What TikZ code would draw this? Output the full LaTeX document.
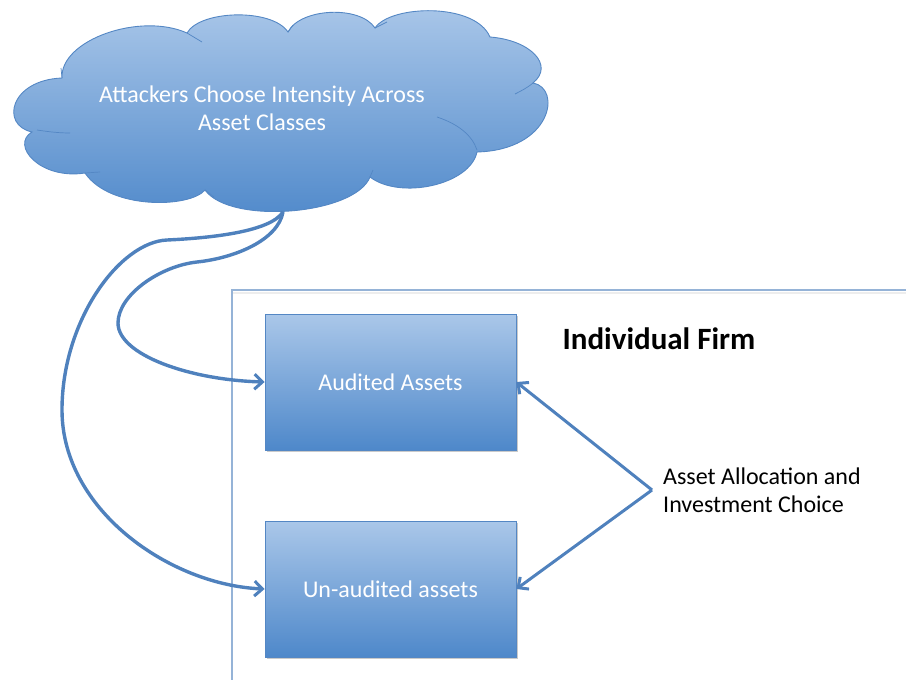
\documentclass[tikz,border=0pt]{standalone}
\usepackage{fontspec}
\setmainfont{Carlito}
\usetikzlibrary{arrows.meta,shadows}

\definecolor{fillTop}{RGB}{170,199,233}
\definecolor{fillBot}{RGB}{78,136,202}
\definecolor{edgeBlue}{RGB}{84,135,196}
\definecolor{arrowBlue}{RGB}{79,129,189}
\definecolor{frameBlue}{RGB}{149,179,215}

\tikzset{
  assetbox/.style={draw=edgeBlue, line width=0.8pt, top color=fillTop, bottom color=fillBot,
    minimum width=251pt, minimum height=136pt, inner sep=0pt, text=white,
    font=\fontsize{24}{28}\selectfont,
    drop shadow={shadow xshift=1.5pt, shadow yshift=-2pt, opacity=0.35, fill=black!60}},
  cloudbody/.style={draw=edgeBlue, line width=0.9pt, top color=fillTop, bottom color=fillBot},
  cloudcrease/.style={draw=edgeBlue, line width=0.7pt},
  flow/.style={draw=arrowBlue, line width=3.4pt,
    -{Straight Barb[length=8pt,width=15pt,line width=3pt]}},
  framebox/.style={draw=frameBlue, line width=2pt},
  plain/.style={text=black, font=\fontsize{24}{28}\selectfont, inner sep=0pt},
}

\begin{document}
\begin{tikzpicture}[x=1pt,y=-1pt]
  \useasboundingbox (0,0) rectangle (906,680);

  % outer frame of the firm
  \draw[black!7, line width=2pt] (233,293) -- (906,293);
  \draw[framebox] (232,680) -- (232,290) -- (906,290);

  % cloud outline built from bumps
  \path[cloudbody]
    (62,78) .. controls (60,40) and (140,12) .. (187,33)
    .. controls (200,10) and (272,8) .. (288,32)
    .. controls (300,8) and (360,5) .. (375,28)
    .. controls (390,5) and (475,2) .. (490,37)
    .. controls (530,40) and (555,65) .. (533,83)
    .. controls (562,88) and (552,150) .. (477,152)
    .. controls (470,185) and (400,200) .. (370,177)
    .. controls (355,215) and (230,225) .. (205,190)
    .. controls (190,208) and (110,210) .. (85,173)
    .. controls (40,180) and (10,145) .. (32,132)
    .. controls (0,125) and (10,80) .. (62,78) -- cycle;
  % creases where the bumps meet
  \draw[cloudcrease] (37,130) .. controls (50,132) and (60,133) .. (70,133);
  \draw[cloudcrease] (85,173) -- (100,172);
  \draw[cloudcrease] (62,78) -- (61,68);
  \draw[cloudcrease] (187,33) -- (202,42);
  \draw[cloudcrease] (288,32) -- (293,25);
  \draw[cloudcrease] (375,28) -- (387,22);
  \draw[cloudcrease] (533,83) .. controls (527,88) and (521,91) .. (515,94);
  \draw[cloudcrease] (437,117) .. controls (458,124) and (472,135) .. (477,150);
  \draw[cloudcrease] (370,177) -- (373,170);
  \draw[cloudcrease] (205,190) -- (214,197);

  \node[plain, text=white, align=center] (cloud) at (262,108)
    {Attackers Choose Intensity Across\\Asset Classes};
  \coordinate (cbot) at (283,212);

  % asset classes
  \node[assetbox] (aud) at (390.5,382) {Audited Assets};
  \node[assetbox] (un) at (390.5,589) {Un-audited assets};

  \node[text=black, font=\bfseries\fontsize{31}{36}\selectfont, inner sep=0pt] (firm) at (659,339)
    {Individual Firm};

  \node[plain, align=left, anchor=west] (choice) at (663,490)
    {Asset Allocation and\\Investment Choice};
  \coordinate (hub) at (652,490);

  % attacker intensity flows
  \draw[flow] (cbot) .. controls (278,240) and (235,258) .. (197,262)
    .. controls (160,266) and (118,295) .. (118,323)
    .. controls (118,355) and (190,380) .. (aud.west);
  \draw[flow] (cbot) .. controls (270,232) and (210,238) .. (167,240)
    .. controls (120,242) and (62,320) .. (62,410)
    .. controls (62,510) and (170,585) .. (un.west);

  % firm's allocation choice
  \draw[flow, line width=3pt] (hub) -- (aud.east);
  \draw[flow, line width=3pt] (hub) -- (un.east);
\end{tikzpicture}
\end{document}
